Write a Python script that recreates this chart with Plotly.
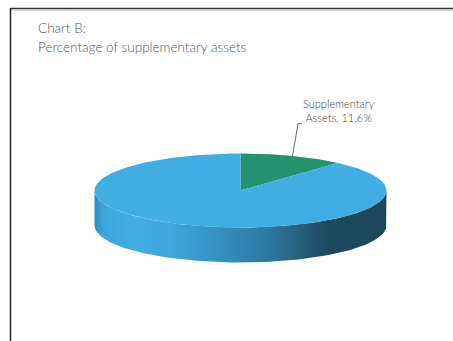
import numpy as np
import plotly.graph_objects as go

# ---- data ----
categories = ["Supplementary Assets", "Other Assets"]
values = [11.6, 88.4]
slice_colors = ["#25926f", "#41aee3"]
title_lines = ["Chart B:", "Percentage of supplementary assets"]

# ---- geometry (pixel-like data space) ----
W, H = 453, 341
cx, cy = 240.5, 190.5
rx, ry = 146.0, 37.0
depth = 35.0

def ept(theta_deg, dy=0.0):
    t = np.radians(theta_deg)
    return cx + rx * np.cos(t), cy - ry * np.sin(t) + dy

fig = go.Figure()

total = sum(values)
start = 90.0
slices = []
for cat, v, col in zip(categories, values, slice_colors):
    sweep = 360.0 * v / total
    slices.append((cat, v, col, start, start - sweep))
    start -= sweep

side_scale = [
    [0.0, "#2d8cc2"], [0.03, "#3ca6dc"], [0.14, "#42aee4"], [0.26, "#3ea6da"],
    [0.43, "#3591c1"], [0.60, "#2c779d"], [0.74, "#23566f"], [0.80, "#1e4a5f"],
    [1.0, "#1d4658"],
]

# side faces (front half: angles -180..0)
for cat, v, col, a0, a1 in slices:
    for shift in (0, -360, 360):
        lo, hi = max(a1 + shift, -180.0), min(a0 + shift, 0.0)
        if hi > lo:
            th = np.linspace(lo, hi, 120)
            tx, ty = ept(th)
            bx, by = ept(th[::-1], depth)
            xs = np.concatenate([tx, bx, tx[:1]])
            ys = np.concatenate([ty, by, ty[:1]])
            fig.add_trace(go.Scatter(
                x=xs, y=ys, mode="lines", line=dict(width=0),
                fill="toself",
                fillgradient=dict(type="horizontal", colorscale=side_scale,
                                  start=cx - rx, stop=cx + rx),
                hoverinfo="skip", showlegend=False))

# top faces
for cat, v, col, a0, a1 in slices:
    th = np.linspace(a0, a1, 240)
    ax, ay = ept(th)
    xs = np.concatenate([[cx], ax, [cx]])
    ys = np.concatenate([[cy], ay, [cy]])
    fig.add_trace(go.Scatter(
        x=xs, y=ys, mode="lines", line=dict(width=0, color=col),
        fill="toself", fillcolor=col, name=cat,
        hoverinfo="name", showlegend=False))

# label for supplementary slice with leader line
cat, v, col, a0, a1 = slices[0]
mid = (a0 + a1) / 2
px, py = ept(mid)
fig.add_trace(go.Scatter(
    x=[px, px + 5.5, px + 9], y=[py, py - 32.5, py - 32.5],
    mode="lines", line=dict(color="#404040", width=0.8),
    hoverinfo="skip", showlegend=False))
fig.add_annotation(x=px + 46.5, y=py - 45, text=f"Supplementary<br>Assets, {v}%",
                   showarrow=False, xanchor="center", yanchor="middle",
                   align="center",
                   font=dict(family="Lato", size=11, color="#444444", weight=300))

# title
fig.add_annotation(x=36, y=28, text=title_lines[0], showarrow=False,
                   xanchor="left", yanchor="middle",
                   font=dict(family="Lato", size=13.5, color="#555555", weight=300))
fig.add_annotation(x=36, y=47, text=title_lines[1], showarrow=False,
                   xanchor="left", yanchor="middle",
                   font=dict(family="Lato", size=13.5, color="#555555", weight=300))

# frame
fig.add_shape(type="line", x0=10.5, x1=W, y0=8.5, y1=8.5,
              line=dict(color="#333333", width=1.5))
fig.add_shape(type="line", x0=10.5, x1=W, y0=10, y1=10,
              line=dict(color="#bbbbbb", width=1))
fig.add_shape(type="line", x0=10.5, x1=10.5, y0=8, y1=H,
              line=dict(color="#222222", width=1.5))

fig.update_layout(
    width=W, height=H, margin=dict(l=0, r=0, t=0, b=0),
    paper_bgcolor="white", plot_bgcolor="white",
    xaxis=dict(range=[0, W], visible=False, fixedrange=True),
    yaxis=dict(range=[H, 0], visible=False, fixedrange=True),
    showlegend=False,
)

fig.write_html("out.html", config={"displayModeBar": False},
               post_script="document.body.style.margin='0';document.body.style.overflow='hidden';")
